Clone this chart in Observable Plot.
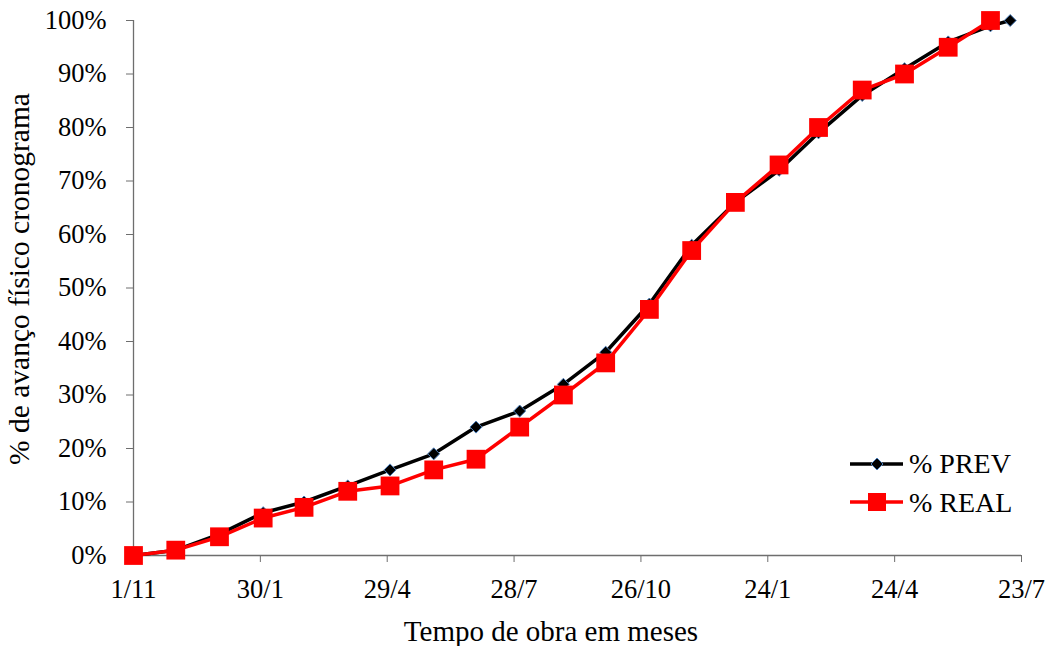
<!DOCTYPE html>
<html>
<head>
<meta charset="utf-8">
<script src="https://cdn.jsdelivr.net/npm/d3@7"></script>
<script src="https://cdn.jsdelivr.net/npm/@observablehq/plot@0.6"></script>
<style>
  html, body { margin: 0; padding: 0; background: #fff; }
  #chart { width: 1053px; height: 646px; }
</style>
</head>
<body>
<div id="chart"></div>
<script>
// ---- data ----
const realDates = ["2011-11-01","2011-12-01","2012-01-01","2012-02-01","2012-03-01","2012-04-01","2012-05-01","2012-06-01","2012-07-01","2012-08-01","2012-09-01","2012-10-01","2012-11-01","2012-12-01","2013-01-01","2013-02-01","2013-03-01","2013-04-01","2013-05-01","2013-06-01","2013-07-01"];
const prevDates = [...realDates, "2013-07-15"];
const prevValues = [0, 1, 4, 8, 10, 13, 16, 19, 24, 27, 32, 38, 47, 58, 66, 72, 79, 86, 91, 96, 99, 100];
const realValues = [0, 1, 3.5, 7, 9, 12, 13, 16, 18, 24, 30, 36, 46, 57, 66, 73, 80, 87, 90, 95, 100];
const xTickDates = ["2011-11-01","2012-01-30","2012-04-29","2012-07-28","2012-10-26","2013-01-24","2013-04-24","2013-07-23"];
const yTicks = [0, 10, 20, 30, 40, 50, 60, 70, 80, 90, 100];
const seriesNames = ["% PREV", "% REAL"];
const xTitle = "Tempo de obra em meses";
const yTitle = "% de avanço físico cronograma";

const prev = prevDates.map((d, i) => ({date: new Date(d), value: prevValues[i]}));
const real = realDates.map((d, i) => ({date: new Date(d), value: realValues[i]}));
const xTicks = xTickDates.map(d => new Date(d));

const AXIS = "#6e6e6e";
const FONT = "'Liberation Serif', 'Times New Roman', serif";

const plot = Plot.plot({
  width: 1053,
  height: 646,
  marginLeft: 133,
  marginRight: 32,
  marginTop: 20,
  marginBottom: 91,
  style: {fontFamily: FONT, fontSize: "26.5px", color: "black", background: "white", overflow: "visible"},
  x: {type: "utc", domain: [xTicks[0], xTicks[xTicks.length - 1]]},
  y: {domain: [0, 100]},
  marks: [
    Plot.axisX({ticks: xTicks, tickFormat: d => `${d.getUTCDate()}/${d.getUTCMonth() + 1}`, tickSize: 7, tickPadding: 17, stroke: AXIS, fill: "black", label: null}),
    Plot.axisY({ticks: yTicks, tickFormat: d => d + "%", tickSize: 7, tickPadding: 20, stroke: AXIS, fill: "black", label: null}),
    Plot.ruleY([0], {stroke: AXIS, strokeWidth: 1.3}),
    Plot.ruleX([xTicks[0]], {stroke: AXIS, strokeWidth: 1.3}),
    Plot.line(prev, {x: "date", y: "value", stroke: "black", strokeWidth: 3.5}),
    Plot.dot(prev, {x: "date", y: "value", symbol: "diamond2", r: 5.4, fill: "black", stroke: "#4a7ebb", strokeWidth: 1}),
    Plot.line(real, {x: "date", y: "value", stroke: "#ff0000", strokeWidth: 3.5}),
    Plot.dot(real, {x: "date", y: "value", symbol: "square", r: 10.6, fill: "#ff0000", stroke: "none"})
  ]
});

document.getElementById("chart").appendChild(plot);

// axis titles and legend
const svg = d3.select(plot);
svg.append("text")
  .attr("x", 551).attr("y", 641)
  .attr("text-anchor", "middle")
  .style("font-family", FONT).style("font-size", "29px").attr("fill", "black")
  .text(xTitle);
svg.append("text")
  .attr("transform", "translate(29,279) rotate(-90)")
  .attr("text-anchor", "middle")
  .style("font-family", FONT).style("font-size", "29.5px").attr("fill", "black")
  .text(yTitle);

const lg = svg.append("g");
// PREV
lg.append("line").attr("x1", 850).attr("x2", 903).attr("y1", 464).attr("y2", 464)
  .attr("stroke", "black").attr("stroke-width", 3.5);
lg.append("path").attr("d", "M877,458L883,464L877,470L871,464Z")
  .attr("fill", "black").attr("stroke", "#4a7ebb").attr("stroke-width", 1);
lg.append("text").attr("x", 909).attr("y", 473).attr("text-anchor", "start")
  .style("font-family", FONT).style("font-size", "28px").attr("fill", "black")
  .text(seriesNames[0]);
// REAL
lg.append("line").attr("x1", 850).attr("x2", 903).attr("y1", 502).attr("y2", 502)
  .attr("stroke", "#ff0000").attr("stroke-width", 3.5);
lg.append("rect").attr("x", 868).attr("y", 493).attr("width", 18).attr("height", 18)
  .attr("fill", "#ff0000");
lg.append("text").attr("x", 909).attr("y", 512).attr("text-anchor", "start")
  .style("font-family", FONT).style("font-size", "28px").attr("fill", "black")
  .text(seriesNames[1]);
</script>
</body>
</html>
